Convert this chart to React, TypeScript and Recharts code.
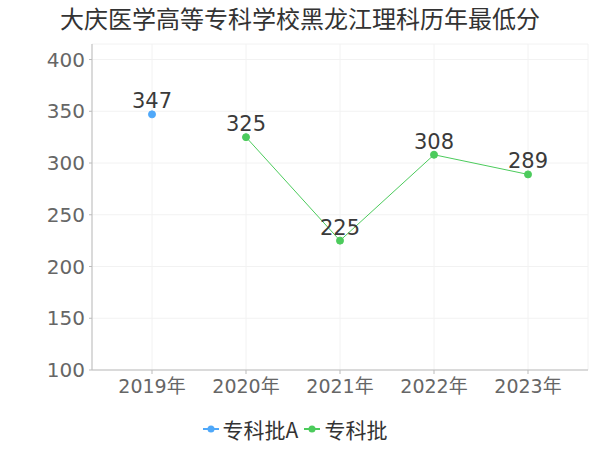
import React from "react";
import {
	LineChart,
	Line,
	XAxis,
	YAxis,
	CartesianGrid,
	Legend,
	LabelList,
} from "recharts";

const years = ["2019年", "2020年", "2021年", "2022年", "2023年"];
const batchA = [347, null, null, null, null];
const batch = [null, 325, 225, 308, 289];
const yTicks = [100, 150, 200, 250, 300, 350, 400];

const data = years.map((year, i) => ({
	year,
	a: batchA[i],
	b: batch[i],
}));

const seriesInfo = [
	{ key: "a", name: "专科批A", color: "#4fa8f9" },
	{ key: "b", name: "专科批", color: "#4ccb5c" },
];

const font = '"DejaVu Sans", "Noto Sans CJK SC", sans-serif';

const LegendContent = () => (
	<div style={{ display: "flex", justifyContent: "center", alignItems: "center", gap: 6 }}>
		{seriesInfo.map((s) => (
			<div key={s.key} style={{ display: "flex", alignItems: "center", gap: 4 }}>
				<svg width={16} height={10}>
					<line x1={0} y1={5} x2={16} y2={5} stroke={s.color} strokeWidth={2} />
					<circle cx={8} cy={5} r={3.5} fill={s.color} />
				</svg>
				<span style={{ fontSize: 21, color: "#333", fontFamily: '"Noto Sans CJK SC", sans-serif' }}>{s.name}</span>
			</div>
		))}
	</div>
);

const App = () => {
	return (
		<div style={{ position: "fixed", left: 0, top: 0, width: 600, height: 450, background: "#fff", fontFamily: font }}>
			<div
				style={{
					position: "absolute",
					top: 0,
					left: 0,
					width: 600,
					textAlign: "center",
					fontSize: 24,
					color: "#333",
					fontFamily: '"Noto Sans CJK SC", sans-serif',
				}}
			>
				大庆医学高等专科学校黑龙江理科历年最低分
			</div>
			<LineChart
				width={600}
				height={450}
				data={data}
				margin={{ top: 44, right: 12, left: 2, bottom: 6 }}
			>
				<CartesianGrid stroke="#f2f2f2" />
				<XAxis
					dataKey="year"
					padding={{ left: 60, right: 60 }}
					stroke="#bbb"
					tickSize={4}
					height={44}
					tick={{ fill: "#666", fontSize: 19, fontFamily: font }}
					tickMargin={6}
				/>
				<YAxis
					width={90}
					domain={[100, 415]}
					ticks={yTicks}
					stroke="#bbb"
					tickSize={3}
					tick={{ fill: "#666", fontSize: 20, fontFamily: font }}
					tickMargin={4}
					allowDataOverflow
				/>
				<Legend content={<LegendContent />} />
				{seriesInfo.map((s) => (
					<Line
						key={s.key}
						name={s.name}
						dataKey={s.key}
						stroke={s.color}
						strokeWidth={1}
						dot={{ r: 3.5, fill: s.color, stroke: s.color }}
						isAnimationActive={false}
					>
						<LabelList dataKey={s.key} position="top" offset={6} fill="#3a3a3a" fontSize={21} fontFamily={font} />
					</Line>
				))}
			</LineChart>
		</div>
	);
};

export default App;
